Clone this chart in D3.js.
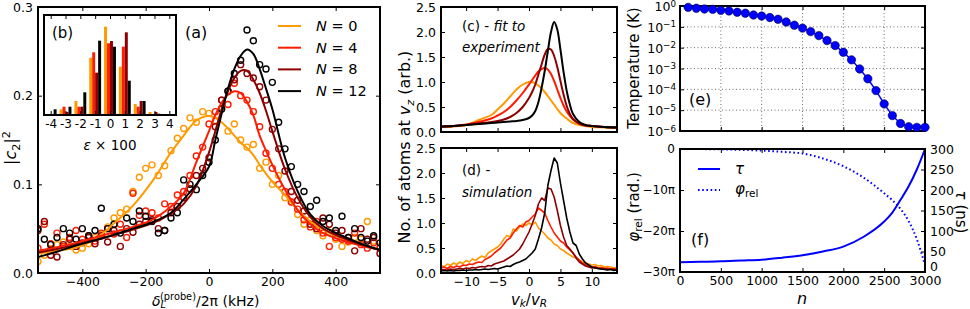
<!DOCTYPE html>
<html><head><meta charset="utf-8">
<script src="https://cdn.jsdelivr.net/npm/d3@7"></script>
<style>
body{margin:0;background:#fff}
svg{display:block}
svg text{font-family:"DejaVu Sans",sans-serif;fill:#000}
</style>
</head><body>
<svg id="fig" width="970" height="309"></svg>
<script>
// ---------------- DATA ----------------
const seriesN = [0, 4, 8, 12];
const seriesColors = ["#ff9a00", "#ff1c00", "#8e0000", "#000000"];

// (a) measured |c2|^2 vs probe detuning (kHz)
const detuningPts = [-540,-520,-500,-480,-460,-440,-420,-400,-380,-360,-340,-320,-300,-280,-260,-240,-220,-200,-180,-160,-140,-120,-100,-80,-60,-40,-20,0,20,40,60,80,100,120,140,160,180,200,220,240,260,280,300,320,340,360,380,400,420,440,460,480,500,520,540];
const popN0 = [.013,.020,.027,.032,.035,.030,.026,.028,.033,.040,.044,.052,.062,.068,.072,.092,.108,.118,.122,.110,.121,.138,.152,.163,.175,.170,.182,.180,.172,.185,.160,.168,.150,.142,.145,.118,.125,.100,.110,.085,.080,.066,.055,.060,.048,.042,.046,.038,.030,.035,.040,.038,.058,.036,.030];
const popN4 = [.028,.055,.033,.045,.030,.040,.048,.038,.042,.036,.045,.050,.044,.055,.040,.090,.065,.070,.068,.062,.078,.075,.088,.092,.110,.132,.142,.168,.182,.195,.190,.214,.200,.195,.182,.165,.135,.118,.100,.092,.080,.072,.060,.052,.058,.045,.030,.040,.038,.036,.045,.032,.028,.034,.028];
const popN8 = [.048,.058,.020,.018,.032,.038,.030,.034,.040,.033,.042,.035,.048,.030,.050,.046,.055,.058,.060,.050,.048,.068,.075,.085,.095,.110,.118,.130,.165,.195,.205,.218,.235,.225,.220,.210,.195,.162,.140,.115,.092,.082,.070,.055,.050,.062,.055,.045,.048,.040,.025,.050,.038,.040,.022];
const popN12 = [.050,.038,.032,.040,.050,.045,.038,.050,.042,.048,.073,.050,.055,.045,.062,.058,.070,.064,.058,.045,.048,.062,.068,.105,.100,.094,.110,.125,.150,.185,.205,.225,.240,.274,.262,.235,.230,.215,.170,.140,.120,.100,.092,.075,.082,.058,.062,.048,.064,.040,.050,.040,.036,.042,.034];

// (a) fitted curves
const detuningFit = [-540,-480,-420,-360,-300,-240,-180,-120,-80,-40,0,20,40,60,80,100,120,140,160,180,200,240,280,320,360,420,480,540];
const fitN0 = [.022,.025,.029,.038,.056,.076,.103,.136,.155,.172,.177,.175,.170,.163,.155,.147,.141,.133,.122,.112,.103,.088,.071,.058,.049,.039,.032,.026];
const fitN4 = [.025,.029,.034,.040,.046,.052,.060,.075,.090,.125,.160,.178,.192,.201,.205,.203,.193,.178,.155,.138,.122,.094,.071,.055,.045,.037,.031,.026];
const fitN8 = [.023,.027,.032,.037,.043,.049,.056,.067,.078,.098,.136,.160,.185,.205,.220,.228,.228,.218,.203,.183,.160,.117,.085,.063,.050,.040,.032,.026];
const fitN12 = [.018,.024,.031,.037,.043,.050,.057,.068,.083,.100,.120,.150,.180,.208,.230,.245,.252,.247,.230,.208,.185,.130,.092,.066,.053,.042,.033,.026];

// (b) inset histogram, epsilon x 100
const epsBins = [-4,-3,-2,-1,0,1,2,3,4];
const histN0 = [.00,.057,.14,.573,.883,.483,.11,.03,.00];
const histN4 = [.00,.083,.083,.627,.717,.683,.083,.007,.00];
const histN8 = [.00,.03,.083,.423,.74,.827,.14,.03,.00];
const histN12 = [.057,.083,.227,.743,.683,.343,.14,.013,.00];

// (c) fit to experiment, velocity v_k/v_R
const velFit = [-14,-12,-10,-8,-6,-5,-4,-3,-2,-1,0,0.5,1,1.5,2,2.5,3,3.5,4,4.5,5,5.5,6,6.5,7,8,9,10,12,14];
const cN0 = [.10,.11,.14,.24,.34,.45,.57,.71,.85,.95,1.0,1.0,.97,.93,.87,.80,.72,.63,.55,.46,.38,.32,.27,.22,.18,.14,.12,.10,.09,.08];
const cN4 = [.11,.12,.15,.20,.27,.33,.40,.50,.63,.78,.95,1.04,1.13,1.21,1.26,1.28,1.25,1.16,1.02,.85,.68,.53,.41,.32,.25,.17,.13,.12,.10,.09];
const cN8 = [.11,.12,.14,.17,.20,.22,.25,.30,.38,.50,.68,.80,.95,1.15,1.35,1.55,1.66,1.65,1.52,1.30,1.02,.75,.52,.36,.26,.17,.13,.12,.10,.09];
const cN12 = [.11,.12,.14,.16,.18,.19,.20,.21,.22,.24,.28,.33,.42,.60,.88,1.22,1.62,2.00,2.20,2.05,1.65,1.20,.82,.55,.36,.20,.14,.12,.10,.09];

// (d) simulation histograms
const velSim = [-14,-13.5,-13,-12.5,-12,-11.5,-11,-10.5,-10,-9.5,-9,-8.5,-8,-7.5,-7,-6.5,-6,-5.5,-5,-4.5,-4,-3.5,-3,-2.5,-2,-1.5,-1,-0.5,0,0.5,1,1.5,2,2.5,3,3.5,4,4.5,5,5.5,6,6.5,7,7.5,8,8.5,9,9.5,10,10.5,11,11.5,12,12.5,13,13.5,14];
const dN0 = [.15,.12,.18,.15,.20,.17,.22,.19,.25,.22,.28,.25,.30,.34,.31,.40,.44,.48,.52,.58,.68,.75,.72,.88,.84,.92,.98,.95,1.0,.96,1.02,.90,.84,.78,.70,.66,.58,.55,.48,.45,.40,.36,.32,.30,.26,.22,.20,.18,.16,.17,.14,.15,.12,.13,.12,.10,.11];
const dN4 = [.10,.12,.09,.13,.11,.14,.12,.16,.15,.18,.17,.20,.22,.21,.27,.30,.34,.40,.45,.50,.58,.66,.70,.80,.88,.95,.92,1.02,1.05,1.12,1.18,1.30,1.25,1.20,1.05,.92,.80,.72,.64,.60,.52,.46,.40,.32,.26,.20,.16,.14,.12,.13,.10,.11,.09,.10,.08,.09,.08];
const dN8 = [.06,.07,.06,.08,.07,.08,.09,.08,.10,.09,.11,.10,.12,.13,.12,.15,.14,.18,.20,.22,.24,.28,.32,.36,.42,.48,.58,.70,.82,.98,1.15,1.38,1.50,1.45,1.70,1.68,1.52,1.25,.95,.72,.55,.48,.40,.30,.22,.18,.14,.12,.10,.11,.09,.08,.09,.07,.08,.07,.06];
const dN12 = [.04,.05,.04,.05,.04,.05,.05,.06,.05,.06,.06,.07,.06,.07,.08,.07,.08,.09,.08,.10,.12,.14,.13,.17,.20,.22,.25,.28,.34,.40,.48,.68,.90,1.20,1.75,2.05,2.30,2.20,1.80,1.45,1.10,.82,.60,.55,.38,.28,.20,.16,.12,.10,.09,.08,.07,.06,.07,.05,.06];

// (e) temperature vs pulse number
const pulseE = [100,200,300,400,500,600,700,800,900,1000,1100,1200,1300,1400,1500,1600,1700,1800,1900,2000,2100,2200,2300,2400,2500,2600,2700,2800,2900,3000];
const tempK = [0.86,0.78,0.72,0.69,0.62,0.58,0.50,0.45,0.37,0.33,0.28,0.23,0.17,0.12,0.087,0.059,0.038,0.022,0.0126,0.006,0.0026,0.00095,0.00032,0.000087,0.00002,0.0000055,0.0000023,0.0000016,0.0000015,0.0000015];

// (f) pulse duration and relative phase
const pulseF = [0,250,500,750,1000,1250,1500,1750,2000,2250,2500,2600,2700,2800,2900,3000];
const tauNs = [24,25,26,28,30,35,41,50,62,86,123,145,176,209,250,300];
const phiRelPi = [0,-0.02,-0.08,-0.2,-0.4,-0.7,-1.1,-2.3,-4.2,-7.0,-10.8,-12.5,-14.6,-17.6,-22.0,-28.3];

// tick values
const ticksAx = [-400,-200,0,200,400];
const ticksAy = [0,0.1,0.2,0.3];
const ticksCDx = [-10,-5,0,5,10];
const ticksCDy = [0,0.5,1,1.5,2,2.5];
const ticksEFx = [0,500,1000,1500,2000,2500,3000];
const ticksEy = [1,1e-1,1e-2,1e-3,1e-4,1e-5,1e-6];
const ticksFphi = [0,-10,-20,-30];
const ticksFtau = [0,50,100,150,200,250,300];

// ---------------- HELPERS ----------------
const FONT = "DejaVu Sans, sans-serif";
const svg = d3.select("#fig");
const TICK = 12.5;

function rich(sel, parts, fs) {
  let shift = 0;
  parts.forEach(p => {
    const target = p.s === "sub" ? fs * (p.sh || 0.22) : p.s === "sup" ? -fs * 0.36 : 0;
    const ts = sel.append("tspan").text(p.t).attr("dy", target - shift);
    if (p.i) ts.attr("font-style", "italic");
    if (p.s) ts.attr("font-size", fs * 0.7);
    if (p.dx) ts.attr("dx", p.dx);
    shift = target;
  });
  return sel;
}
function label(x, y, parts, fs, opts = {}) {
  const t = svg.append("text").attr("font-size", fs).attr("font-family", FONT)
    .attr("text-anchor", opts.anchor || "start");
  if (opts.rot) t.attr("transform", `translate(${x},${y}) rotate(${opts.rot})`);
  else t.attr("x", x).attr("y", y);
  return rich(t, parts, fs);
}
function styleAxis(a, fs) {
  a.attr("font-family", FONT);
  a.select(".domain").remove();
  a.selectAll("line").attr("stroke", "#000").attr("stroke-width", 1);
  a.selectAll("text").attr("font-size", fs || TICK).attr("font-family", FONT).attr("fill", "#000");
}
function xTicks(g, scale, y0, y1, vals, fmt) {
  const b = g.append("g").attr("transform", `translate(0,${y1})`)
    .call(d3.axisBottom(scale).tickValues(vals).tickSizeInner(-4).tickSizeOuter(0).tickPadding(4).tickFormat(fmt || ""));
  const t = g.append("g").attr("transform", `translate(0,${y0})`)
    .call(d3.axisTop(scale).tickValues(vals).tickSizeInner(-4).tickSizeOuter(0).tickFormat(""));
  styleAxis(b); styleAxis(t);
  return b;
}
function yTicks(g, scale, x0, x1, vals, fmt, rightFmt) {
  const l = g.append("g").attr("transform", `translate(${x0},0)`)
    .call(d3.axisLeft(scale).tickValues(vals).tickSizeInner(-4).tickSizeOuter(0).tickPadding(5).tickFormat(fmt || ""));
  const r = g.append("g").attr("transform", `translate(${x1},0)`)
    .call(d3.axisRight(scale).tickValues(vals).tickSizeInner(-4).tickSizeOuter(0).tickPadding(5).tickFormat(rightFmt || ""));
  styleAxis(l); styleAxis(r);
  return [l, r];
}
function frame(g, x0, y0, x1, y1) {
  g.append("rect").attr("x", x0).attr("y", y0).attr("width", x1 - x0).attr("height", y1 - y0)
    .attr("fill", "none").attr("stroke", "#000").attr("stroke-width", 2);
}
function clip(id, x0, y0, x1, y1) {
  svg.append("clipPath").attr("id", id).append("rect").attr("x", x0).attr("y", y0).attr("width", x1 - x0).attr("height", y1 - y0);
}

// ---------------- PANEL (a) ----------------
const A = {x0: 38, x1: 380, y0: 7, y1: 273};
const xA = d3.scaleLinear().domain([-540, 540]).range([A.x0, A.x1]);
const yA = d3.scaleLinear().domain([0, 0.3]).range([A.y1, A.y0]);
clip("clipA", A.x0, A.y0, A.x1, A.y1);
const gA = svg.append("g");
const gAd = gA.append("g").attr("clip-path", "url(#clipA)");
const popAll = [popN0, popN4, popN8, popN12];
const fitAll = [fitN0, fitN4, fitN8, fitN12];
const lineA = d3.line().curve(d3.curveCatmullRom.alpha(0.5));
popAll.forEach((arr, s) => {
  gAd.append("g").selectAll("circle").data(arr).join("circle")
    .attr("cx", (d, i) => xA(detuningPts[i])).attr("cy", d => yA(d)).attr("r", 3)
    .attr("fill", "none").attr("stroke", seriesColors[s]).attr("stroke-width", 1.4);
});
fitAll.forEach((arr, s) => {
  gAd.append("path").attr("d", lineA(arr.map((d, i) => [xA(detuningFit[i]), yA(d)])))
    .attr("fill", "none").attr("stroke", seriesColors[s]).attr("stroke-width", 2);
});
xTicks(gA, xA, A.y0, A.y1, ticksAx, d3.format("d"));
yTicks(gA, yA, A.x0, A.x1, ticksAy, d3.format(".1f"));
frame(gA, A.x0, A.y0, A.x1, A.y1);

// legend (a)
seriesN.forEach((n, s) => {
  const y = 26 + s * 21.7;
  svg.append("line").attr("x1", 278).attr("x2", 301).attr("y1", y).attr("y2", y)
    .attr("stroke", seriesColors[s]).attr("stroke-width", 2);
  label(316, y + 5, [{t: "N", i: true}, {t: " = " + n}], 14.5);
});
label(185, 38, [{t: "(a)"}], 16);

// inset (b)
const B = {x0: 44, x1: 176, y0: 15, y1: 115};
const xB = d3.scaleLinear().domain([-4.45, 4.45]).range([B.x0, B.x1]);
const yB = d3.scaleLinear().domain([0, 1]).range([B.y1, B.y0]);
const gB = svg.append("g");
gB.append("rect").attr("x", B.x0).attr("y", B.y0).attr("width", B.x1 - B.x0).attr("height", B.y1 - B.y0).attr("fill", "#fff");
[histN0, histN4, histN8, histN12].forEach((arr, s) => {
  gB.append("g").selectAll("rect").data(arr).join("rect")
    .attr("x", (d, i) => xB(epsBins[i] - 0.4 + 0.2 * s)).attr("width", xB(0.2) - xB(0))
    .attr("y", d => yB(d)).attr("height", d => yB(0) - yB(d))
    .attr("fill", seriesColors[s]);
});
const bx = xTicks(gB, xB, B.y0, B.y1, epsBins, d => String(d));
bx.selectAll("text").attr("font-size", 12);
frame(gB, B.x0, B.y0, B.x1, B.y1);
label(52, 38, [{t: "(b)"}], 15);
label(110, 150, [{t: "ε", i: true}, {t: " × 100"}], 13.5, {anchor: "middle"});

// axis labels (a)
label(16, 148, [{t: "|"}, {t: "c", i: true}, {t: "2", s: "sub"}, {t: "|"}, {t: "2", s: "sup"}], 16, {rot: -90, anchor: "middle"});
label(152, 305.5, [{t: "δ", i: true}, {t: "L", i: true, s: "sub", sh: 0.17}, {t: "(probe)", s: "sup", dx: -6}, {t: "/2π (kHz)"}], 14);

// ---------------- PANEL (c) ----------------
const C = {x0: 441, x1: 617, y0: 7, y1: 132};
const xC = d3.scaleLinear().domain([-14, 14]).range([C.x0, C.x1]);
const yC = d3.scaleLinear().domain([0, 2.5]).range([C.y1, C.y0]);
clip("clipC", C.x0, C.y0, C.x1, C.y1);
const gC = svg.append("g");
const gCd = gC.append("g").attr("clip-path", "url(#clipC)");
[cN0, cN4, cN8, cN12].forEach((arr, s) => {
  gCd.append("path").attr("d", lineA(arr.map((d, i) => [xC(velFit[i]), yC(d)])))
    .attr("fill", "none").attr("stroke", seriesColors[s]).attr("stroke-width", 2);
});
xTicks(gC, xC, C.y0, C.y1, ticksCDx);
yTicks(gC, yC, C.x0, C.x1, ticksCDy, d3.format(".1f"));
frame(gC, C.x0, C.y0, C.x1, C.y1);
label(462, 31, [{t: "(c) - "}, {t: "fit to", i: true}], 13.5);
label(462, 52, [{t: "experiment", i: true}], 13.5);

// ---------------- PANEL (d) ----------------
const D = {x0: 441, x1: 617, y0: 148, y1: 273};
const xD = d3.scaleLinear().domain([-14, 14]).range([D.x0, D.x1]);
const yD = d3.scaleLinear().domain([0, 2.5]).range([D.y1, D.y0]);
clip("clipD", D.x0, D.y0, D.x1, D.y1);
const gD = svg.append("g");
const gDd = gD.append("g").attr("clip-path", "url(#clipD)");
const lineD = d3.line();
[dN0, dN4, dN8, dN12].forEach((arr, s) => {
  gDd.append("path").attr("d", lineD(arr.map((d, i) => [xD(velSim[i]), yD(d)])))
    .attr("fill", "none").attr("stroke", seriesColors[s]).attr("stroke-width", 1.6).attr("stroke-linejoin", "round");
});
xTicks(gD, xD, D.y0, D.y1, ticksCDx, d3.format("d"));
yTicks(gD, yD, D.x0, D.x1, ticksCDy, d3.format(".1f"));
frame(gD, D.x0, D.y0, D.x1, D.y1);
label(462, 175, [{t: "(d) -"}], 13.5);
label(462, 197, [{t: "simulation", i: true}], 13.5);
label(410, 147, [{t: "No. of atoms at "}, {t: "v", i: true}, {t: "z", i: true, s: "sub"}, {t: " (arb.)"}], 16, {rot: -90, anchor: "middle"});
label(529, 304.5, [{t: "v", i: true}, {t: "k", i: true, s: "sub", sh: 0.17}, {t: "/"}, {t: "v", i: true}, {t: "R", i: true, s: "sub", sh: 0.17}], 15, {anchor: "middle"});

// ---------------- PANEL (e) ----------------
const E = {x0: 680, x1: 925, y0: 6, y1: 131};
const xE = d3.scaleLinear().domain([0, 3000]).range([E.x0, E.x1]);
const yE = d3.scaleLog().domain([1e-6, 1]).range([E.y1, E.y0]);
const gE = svg.append("g");
gE.append("g").selectAll("line").data(ticksEFx.slice(1, -1)).join("line")
  .attr("x1", d => xE(d)).attr("x2", d => xE(d)).attr("y1", E.y0).attr("y2", E.y1)
  .attr("stroke", "#000").attr("stroke-width", 0.8).attr("stroke-dasharray", "1,2.5").attr("opacity", 0.7);
gE.append("g").selectAll("line").data(ticksEy.slice(1, -1)).join("line")
  .attr("y1", d => yE(d)).attr("y2", d => yE(d)).attr("x1", E.x0).attr("x2", E.x1)
  .attr("stroke", "#000").attr("stroke-width", 0.8).attr("stroke-dasharray", "1,2.5").attr("opacity", 0.7);
xTicks(gE, xE, E.y0, E.y1, ticksEFx);
yTicks(gE, yE, E.x0, E.x1, ticksEy);
frame(gE, E.x0, E.y0, E.x1, E.y1);
const gEd = gE.append("g");
gEd.append("path").attr("d", d3.line()(tempK.map((d, i) => [xE(pulseE[i]), yE(d)])))
  .attr("fill", "none").attr("stroke", "#0000ff").attr("stroke-width", 1.5);
gEd.selectAll("circle").data(tempK).join("circle")
  .attr("cx", (d, i) => xE(pulseE[i])).attr("cy", d => yE(d)).attr("r", 4.2)
  .attr("fill", "#0000ff").attr("stroke", "#000040").attr("stroke-width", 0.6);
ticksEy.forEach(v => {
  const k = Math.round(Math.log10(v));
  label(676, yE(v) + 5, [{t: "10"}, {t: k === 0 ? "0" : "−" + (-k), s: "sup"}], 12.5, {anchor: "end"});
});
label(689, 105, [{t: "(e)"}], 16);
label(639, 68, [{t: "Temperature (K)"}], 15, {rot: -90, anchor: "middle"});

// ---------------- PANEL (f) ----------------
const F = {x0: 680, x1: 925, y0: 149, y1: 272};
const xF = d3.scaleLinear().domain([0, 3000]).range([F.x0, F.x1]);
const yFphi = d3.scaleLinear().domain([-30, 0]).range([F.y1, F.y0]);
const yFtau = d3.scaleLinear().domain([0, 300]).range([F.y1, F.y0]);
clip("clipF", F.x0, F.y0 - 2, F.x1, F.y1);
const gF = svg.append("g");
const gFd = gF.append("g").attr("clip-path", "url(#clipF)");
const lineF = d3.line().curve(d3.curveMonotoneX);
gFd.append("path").attr("d", lineF(tauNs.map((d, i) => [xF(pulseF[i]), yFtau(d)])))
  .attr("fill", "none").attr("stroke", "#0000ff").attr("stroke-width", 2);
gFd.append("path").attr("d", lineF(phiRelPi.map((d, i) => [xF(pulseF[i]), yFphi(d)])))
  .attr("fill", "none").attr("stroke", "#0000ff").attr("stroke-width", 2).attr("stroke-dasharray", "1.6,2.6");
xTicks(gF, xF, F.y0, F.y1, ticksEFx, d3.format("d"));
const gl = gF.append("g").attr("transform", `translate(${F.x0},0)`)
  .call(d3.axisLeft(yFphi).tickValues(ticksFphi).tickSizeInner(-4).tickSizeOuter(0).tickPadding(5)
    .tickFormat(d => d === 0 ? "0" : "−" + (-d) + "π"));
const gr = gF.append("g").attr("transform", `translate(${F.x1},0)`)
  .call(d3.axisRight(yFtau).tickValues(ticksFtau).tickSizeInner(-4).tickSizeOuter(0).tickPadding(5).tickFormat(d3.format("d")));
styleAxis(gl, 12); styleAxis(gr);
gr.selectAll(".tick").filter(d => d === 0).select("text").attr("dy", "-0.15em");
frame(gF, F.x0, F.y0, F.x1, F.y1);
// legend (f)
svg.append("line").attr("x1", 698).attr("x2", 720).attr("y1", 169).attr("y2", 169).attr("stroke", "#0000ff").attr("stroke-width", 2);
svg.append("line").attr("x1", 698).attr("x2", 720).attr("y1", 190).attr("y2", 190).attr("stroke", "#0000ff").attr("stroke-width", 2).attr("stroke-dasharray", "1.6,2.6");
label(735, 174, [{t: "τ", i: true}], 15);
label(735, 194, [{t: "φ", i: true}, {t: "rel", s: "sub"}], 15);
label(691, 245, [{t: "(f)"}], 16);
label(639, 207, [{t: "φ", i: true}, {t: "rel", s: "sub"}, {t: " (rad.)"}], 15, {rot: -90, anchor: "middle"});
label(956, 212, [{t: "τ", i: true}, {t: " (ns)"}], 15, {rot: 90, anchor: "middle"});
label(802, 304, [{t: "n", i: true}], 16, {anchor: "middle"});
</script>
</body></html>
